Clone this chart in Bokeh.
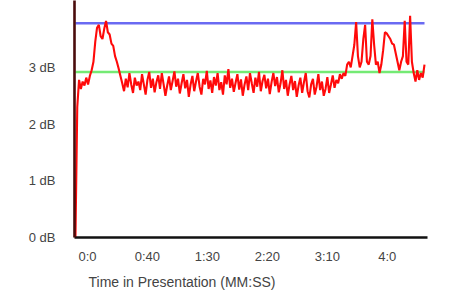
from bokeh.plotting import figure
from bokeh.models import Range1d, FixedTicker, Title
from bokeh.embed import file_html
from bokeh.resources import INLINE

# ---- data ----
step_s = 1.5  # seconds between samples
level_db = [
    0.0, 2.3, 2.78, 2.62, 2.75, 2.68, 2.82, 2.7, 2.85, 2.95,
    3.1, 3.45, 3.7, 3.75, 3.55, 3.5, 3.68, 3.82, 3.62, 3.58,
    3.42, 3.38, 3.2, 3.1, 2.98, 2.85,
    2.72, 2.58, 2.8, 2.65, 2.9, 2.7, 2.55, 2.82, 2.68, 2.75,
    2.6, 2.88, 2.7, 2.52, 2.78, 2.92, 2.64, 2.8, 2.56, 2.74,
    2.86, 2.62, 2.9, 2.7, 2.5, 2.68, 2.84, 2.6, 2.76, 2.93,
    2.66, 2.8, 2.54, 2.72, 2.88, 2.63, 2.78, 2.48, 2.7, 2.85,
    2.58, 2.75, 2.9, 2.66, 2.52, 2.8, 2.7, 2.94, 2.62, 2.77,
    2.55, 2.83, 2.68, 2.9, 2.6, 2.74, 2.52, 2.86, 2.7, 2.97,
    2.64, 2.8, 2.57, 2.73, 2.88, 2.61, 2.79, 2.5, 2.7, 2.84,
    2.6, 2.9, 2.72, 2.55, 2.82, 2.66, 2.92, 2.58, 2.76, 2.87,
    2.63, 2.8, 2.53, 2.74, 2.9, 2.67, 2.83, 2.56, 2.72, 2.95,
    2.62, 2.78, 2.5, 2.7, 2.85, 2.6, 2.76, 2.48, 2.68, 2.82,
    2.55, 2.74, 2.9, 2.58, 2.47, 2.7, 2.8, 2.52, 2.66, 2.88,
    2.6, 2.75, 2.5, 2.62, 2.83, 2.55, 2.7, 2.86, 2.64, 2.78,
    2.72, 2.88,
    2.8, 2.9, 2.85, 3.05, 3.1, 3.0, 3.2, 3.4, 3.8, 3.2,
    3.0, 3.1, 3.5, 3.75, 3.1, 3.05, 3.2, 3.85, 3.4, 3.05,
    3.1, 2.9, 3.05, 3.3, 3.62, 3.6, 3.55, 3.5, 3.42, 3.4,
    3.25, 3.1, 2.95, 3.1, 3.2, 3.82, 3.1, 3.05, 3.91, 3.1,
    2.9, 2.75, 2.95, 2.78, 2.9, 2.82, 3.05,
]
time_s = [i * step_s for i in range(len(level_db))]

upper_db = 3.78   # blue reference line
target_db = 2.92  # green reference line

x_tick_times = [0, 50, 100, 150, 200, 250]
x_tick_labels = ["0:0", "0:40", "1:30", "2:20", "3:10", "4:0"]
y_ticks = [0, 1, 2, 3]
y_tick_labels = ["0 dB", "1 dB", "2 dB", "3 dB"]

# ---- figure ----
p = figure(width=457, height=298, output_backend="svg", toolbar_location=None,
           x_range=Range1d(-0.8, 293.5), y_range=Range1d(0, 4.18))
p.min_border_left = 74
p.min_border_right = 30
p.min_border_top = 0
p.min_border_bottom = 61
p.outline_line_color = None
p.grid.visible = False
p.background_fill_color = "white"
p.border_fill_color = "white"

t0, t1 = time_s[0], time_s[-1]
p.line([t0, t1], [upper_db, upper_db], line_color="#6a6af2", line_width=2.6)
p.line([t0, t1], [target_db, target_db], line_color="#74ea74", line_width=2.6)
p.line(time_s, level_db, line_color="#ff0a0a", line_width=2.1)

label_shift = 10  # seconds: labels sit to the right of their tick
xt = [t + label_shift for t in x_tick_times]
p.xaxis.ticker = FixedTicker(ticks=xt)
p.xaxis.major_label_overrides = {v: s for v, s in zip(xt, x_tick_labels)}
p.yaxis.ticker = FixedTicker(ticks=y_ticks)
p.yaxis.major_label_overrides = {v: s for v, s in zip(y_ticks, y_tick_labels)}

for ax in (p.xaxis[0], p.yaxis[0]):
    ax.major_tick_line_color = None
    ax.minor_tick_line_color = None
    ax.major_label_text_font = "Liberation Sans"
    ax.major_label_text_font_size = "13px"
    ax.major_label_text_color = "#444444"
    ax.major_label_text_font_style = "normal"

p.xaxis.axis_line_color = "#111111"
p.xaxis.axis_line_width = 2.5
p.xaxis.major_label_standoff = 5
p.yaxis.axis_line_color = "#4a0c0c"
p.yaxis.axis_line_width = 2.6
p.yaxis.major_label_standoff = 13

p.add_layout(Title(text="Time in Presentation (MM:SS)", align="left", offset=14,
                   text_font="Liberation Sans", text_font_size="14px",
                   text_font_style="normal", text_color="#444444"), "below")

open("out.html", "w").write(file_html(p, INLINE))
